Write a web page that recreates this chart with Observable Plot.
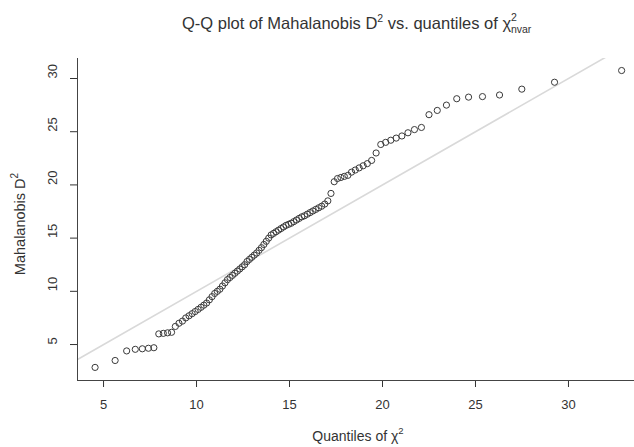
<!DOCTYPE html>
<html>
<head>
<meta charset="utf-8">
<script src="https://cdn.jsdelivr.net/npm/d3@7"></script>
<script src="https://cdn.jsdelivr.net/npm/@observablehq/plot@0.6"></script>
<style>
  html, body { margin: 0; padding: 0; background: white; }
  #chart svg { display: block; }
</style>
</head>
<body>
<div id="chart"></div>
<script>
// Quantiles of chi-square (x)
const xQuant = [
  4.545, 5.623, 6.243, 6.706, 7.086, 7.414, 7.706, 7.971, 8.215, 8.443,
  8.658, 8.861, 9.056, 9.242, 9.421, 9.595, 9.763, 9.926, 10.086, 10.242,
  10.394, 10.543, 10.690, 10.835, 10.977, 11.118, 11.257, 11.394, 11.530, 11.665,
  11.799, 11.932, 12.063, 12.195, 12.325, 12.456, 12.586, 12.715, 12.844, 12.974,
  13.103, 13.232, 13.361, 13.490, 13.620, 13.751, 13.881, 14.012, 14.144, 14.277,
  14.410, 14.544, 14.679, 14.815, 14.952, 15.091, 15.231, 15.373, 15.515, 15.660,
  15.806, 15.955, 16.105, 16.258, 16.413, 16.570, 16.730, 16.894, 17.060, 17.229,
  17.403, 17.580, 17.762, 17.947, 18.139, 18.335, 18.537, 18.746, 18.961, 19.184,
  19.415, 19.656, 19.907, 20.170, 20.446, 20.736, 21.043, 21.369, 21.718, 22.093,
  22.500, 22.945, 23.438, 23.992, 24.628, 25.376, 26.293, 27.491, 29.250, 32.858
];
// Mahalanobis D^2 (y)
const yD2 = [
  2.85, 3.5, 4.4, 4.55, 4.6, 4.65, 4.7, 6.0, 6.05, 6.1,
  6.15, 6.7, 7.0, 7.2, 7.5, 7.7, 7.9, 8.1, 8.3, 8.5,
  8.7, 8.9, 9.2, 9.5, 9.8, 10.0, 10.2, 10.5, 10.8, 11.1,
  11.3, 11.5, 11.7, 11.9, 12.1, 12.3, 12.5, 12.8, 13.0, 13.2,
  13.4, 13.6, 13.85, 14.1, 14.4, 14.7, 15.0, 15.3, 15.45, 15.6,
  15.75, 15.9, 16.05, 16.2, 16.3, 16.4, 16.55, 16.7, 16.85, 17.0,
  17.1, 17.25, 17.4, 17.55, 17.7, 17.85, 18.0, 18.2, 18.5, 19.2,
  20.3, 20.6, 20.7, 20.8, 20.9, 21.2, 21.4, 21.6, 21.8, 22.0,
  22.3, 23.0, 23.8, 24.0, 24.2, 24.4, 24.6, 24.9, 25.2, 25.4,
  26.6, 27.0, 27.5, 28.1, 28.25, 28.3, 28.45, 29.0, 29.65, 30.75
];
const xTicks = [5, 10, 15, 20, 25, 30];
const yTicks = [5, 10, 15, 20, 25, 30];
const refIntercept = 0;
const refSlope = 1;

const xDomain = [3.6, 33.55];
const yDomain = [1.62, 31.88];

const points = xQuant.map((x, i) => ({x, y: yD2[i]}));
const refLine = xDomain.map(x => ({x, y: refIntercept + refSlope * x}));

const textColor = "#333";
const ff = "'Liberation Sans', Arial, sans-serif";
const chart = Plot.plot({
  width: 634,
  height: 447,
  marginLeft: 77,
  marginRight: 0,
  marginTop: 58,
  marginBottom: 67,
  style: {fontFamily: ff, fontSize: "13px", color: textColor, background: "white"},
  x: {domain: xDomain, ticks: xTicks, tickSize: 7, tickPadding: 12, label: null},
  y: {domain: yDomain, ticks: yTicks, tickSize: 7, tickFormat: () => "", label: null},
  marks: [
    Plot.line(refLine, {x: "x", y: "y", stroke: "#d9d9d9", strokeWidth: 1.6, clip: true}),
    Plot.dot(points, {x: "x", y: "y", r: 3.1, stroke: "#3a3a3a", strokeWidth: 1, fill: "none"}),
    Plot.ruleX([xDomain[0]], {stroke: "#444", strokeWidth: 1}),
    Plot.ruleY([yDomain[0]], {stroke: "#444", strokeWidth: 1}),
    Plot.text(yTicks, {y: d => d, text: d => String(d), frameAnchor: "left", dx: -25, rotate: -90, fontSize: 13, fill: textColor})
  ]
});
document.getElementById("chart").appendChild(chart);

const svg = d3.select(chart);

// Title
const title = svg.append("text")
  .attr("x", 182).attr("y", 28.5)
  .attr("text-anchor", "start")
  .attr("font-family", ff).attr("font-size", 16.5).attr("fill", textColor);
title.append("tspan").text("Q-Q plot of Mahalanobis D");
title.append("tspan").attr("dy", -7).attr("font-size", 10.5).text("2");
title.append("tspan").attr("dy", 7).text(" vs. quantiles of ");
title.append("tspan").text("χ");
title.append("tspan").attr("dy", -8).attr("font-size", 10.5).text("2");
title.append("tspan").attr("dy", 12).attr("dx", -6).attr("font-size", 10.5).text("nvar");

// X label
const xl = svg.append("text")
  .attr("x", 358).attr("y", 441)
  .attr("text-anchor", "middle")
  .attr("font-family", ff).attr("font-size", 14).attr("fill", textColor);
xl.append("tspan").text("Quantiles of ");
xl.append("tspan").text("χ");
xl.append("tspan").attr("dy", -7).attr("font-size", 9.5).text("2");

// Y label
const yl = svg.append("text")
  .attr("transform", "translate(25,224) rotate(-90)")
  .attr("text-anchor", "middle")
  .attr("font-family", ff).attr("font-size", 14.5).attr("fill", textColor);
yl.append("tspan").text("Mahalanobis D");
yl.append("tspan").attr("dy", -7).attr("font-size", 10).text("2");
</script>
</body>
</html>
